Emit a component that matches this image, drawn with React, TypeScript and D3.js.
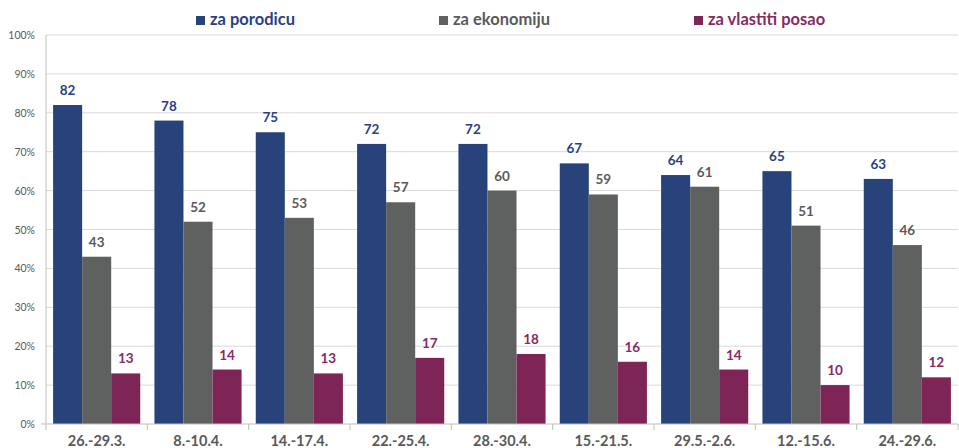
import React, { useEffect, useRef } from 'react';
import * as d3 from 'd3';

const categories = ['26.-29.3.', '8.-10.4.', '14.-17.4.', '22.-25.4.', '28.-30.4.', '15.-21.5.', '29.5.-2.6.', '12.-15.6.', '24.-29.6.'];
const seriesNames = ['za porodicu', 'za ekonomiju', 'za vlastiti posao'];
const porodica = [82, 78, 75, 72, 72, 67, 64, 65, 63];
const ekonomija = [43, 52, 53, 57, 60, 59, 61, 51, 46];
const posao = [13, 14, 13, 17, 18, 16, 14, 10, 12];
const yTicks = [0, 10, 20, 30, 40, 50, 60, 70, 80, 90, 100];

const barColors = ['#284379', '#5f6160', '#7e2557'];
const labelColors = ['#2b3f84', '#5a5a5a', '#872a62'];

const W = 959;
const H = 448;

const App: React.FC = () => {
  const svgRef = useRef<SVGSVGElement>(null);

  useEffect(() => {
    if (!svgRef.current) return;
    const svg = d3.select(svgRef.current);
    svg.selectAll('*').remove();

    const m = { left: 46, right: 1, top: 35, bottom: 24 };
    const font = 'Lato, "Open Sans", sans-serif';
    const series = [porodica, ekonomija, posao];

    const x = d3.scaleBand<string>().domain(categories).range([m.left, W - m.right]).paddingInner(0.14).paddingOuter(0.07);
    const xOuter = d3.scaleBand<string>().domain(categories).range([m.left, W - m.right]);
    const xs = d3.scaleBand<number>().domain([0, 1, 2]).range([0, x.bandwidth()]);
    const y = d3.scaleLinear().domain([0, 100]).range([H - m.bottom, m.top]);

    // grid
    svg.append('g').selectAll('line').data(yTicks.slice(1)).join('line')
      .attr('x1', m.left).attr('x2', W - m.right)
      .attr('y1', d => y(d)).attr('y2', d => y(d))
      .attr('stroke', '#d9d9d9').attr('stroke-width', 1);

    // y labels
    svg.append('g').selectAll('text').data(yTicks).join('text')
      .attr('x', 35).attr('y', d => y(d) + 4)
      .attr('text-anchor', 'end')
      .attr('font-family', font).attr('font-size', 10.5).attr('fill', '#595959')
      .text(d => `${d}%`);

    // bars
    series.forEach((vals, si) => {
      const g = svg.append('g');
      g.selectAll('rect').data(vals).join('rect')
        .attr('x', (_, i) => (x(categories[i]) as number) + (xs(si) as number))
        .attr('y', d => y(d))
        .attr('width', xs.bandwidth())
        .attr('height', d => y(0) - y(d))
        .attr('fill', barColors[si]);
      g.selectAll('text').data(vals).join('text')
        .attr('x', (_, i) => (x(categories[i]) as number) + (xs(si) as number) + xs.bandwidth() / 2)
        .attr('y', d => y(d) - 10)
        .attr('text-anchor', 'middle')
        .attr('font-family', font).attr('font-weight', 'bold').attr('font-size', 13.5)
        .attr('fill', labelColors[si])
        .text(d => d);
    });

    // axes lines
    svg.append('line').attr('x1', m.left).attr('x2', m.left).attr('y1', y(100)).attr('y2', y(0))
      .attr('stroke', '#bfbfbf');
    svg.append('line').attr('x1', m.left - 5).attr('x2', W - m.right).attr('y1', y(0)).attr('y2', y(0))
      .attr('stroke', '#bfbfbf');
    svg.append('g').selectAll('line').data(categories).join('line')
      .attr('x1', d => (xOuter(d) as number) + xOuter.bandwidth()).attr('x2', d => (xOuter(d) as number) + xOuter.bandwidth())
      .attr('y1', y(0)).attr('y2', y(0) + 6)
      .attr('stroke', '#bfbfbf');
    svg.append('line').attr('x1', m.left).attr('x2', m.left).attr('y1', y(0)).attr('y2', y(0) + 6)
      .attr('stroke', '#bfbfbf');

    // category labels
    svg.append('g').selectAll('text').data(categories).join('text')
      .attr('x', d => (xOuter(d) as number) + xOuter.bandwidth() / 2)
      .attr('y', H - 2)
      .attr('text-anchor', 'middle')
      .attr('font-family', font).attr('font-weight', 'bold').attr('font-size', 14.5)
      .attr('fill', '#595959')
      .text(d => d);

    // legend
    const legendX = [196, 439, 694];
    const lg = svg.append('g');
    seriesNames.forEach((name, i) => {
      lg.append('rect').attr('x', legendX[i]).attr('y', 16).attr('width', 9).attr('height', 9).attr('fill', barColors[i]);
      lg.append('text').attr('x', legendX[i] + 14).attr('y', 25)
        .attr('font-family', font).attr('font-weight', 'bold').attr('font-size', 16.5)
        .attr('fill', labelColors[i]).text(name);
    });
  }, []);

  return <svg ref={svgRef} width={W} height={H} style={{ position: 'absolute', left: 0, top: 0, background: '#fff' }} />;
};

export default App;
